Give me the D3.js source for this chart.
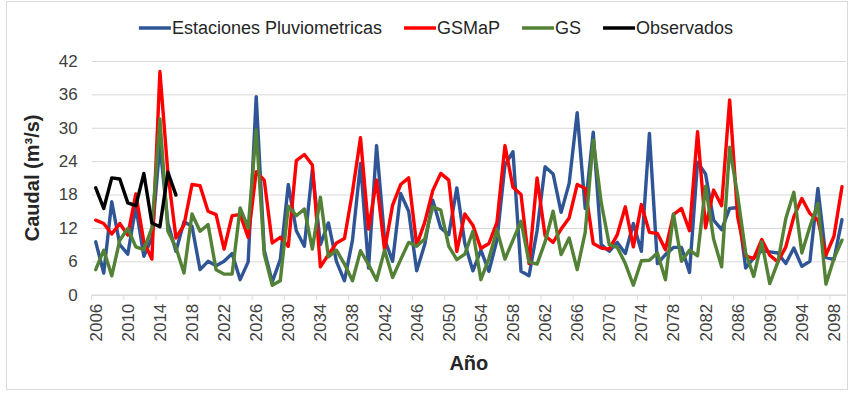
<!DOCTYPE html>
<html>
<head>
<meta charset="utf-8">
<script src="https://cdn.jsdelivr.net/npm/d3@7"></script>
<style>
  html, body { margin: 0; padding: 0; background: #fff; }
  svg { display: block; font-family: "Liberation Sans", Arial, sans-serif; }
</style>
</head>
<body>
<svg id="chart" width="851" height="394"></svg>
<script>
// categories: one per year
const years = d3.range(2006, 2100);
const xTickLabels = [2006, 2010, 2014, 2018, 2022, 2026, 2030, 2034, 2038, 2042, 2046, 2050,
  2054, 2058, 2062, 2066, 2070, 2074, 2078, 2082, 2086, 2090, 2094, 2098];
const yTicks = [0, 6, 12, 18, 24, 30, 36, 42];

// values (m3/s), 2006 -> 2099
const estaciones = [
  9.5, 3.9, 16.7, 9.0, 7.3, 15.8, 6.9, 10.2, 27.0, 12.8,
  7.8, 13.1, 12.3, 4.5, 6.0, 5.2, 6.0, 7.4, 2.7, 5.9,
  35.6, 8.0, 2.3, 6.3, 19.8, 11.5, 8.7, 22.5, 9.0, 12.9,
  6.0, 2.5, 9.8, 23.6, 4.8, 26.8, 10.0, 6.0, 18.2, 15.0,
  4.3, 9.0, 17.0, 12.0, 10.8, 19.2, 9.2, 4.3, 8.0, 4.2,
  9.8, 23.3, 25.7, 4.2, 3.4, 11.5, 23.0, 21.7, 14.8, 20.0,
  32.7, 15.5, 29.2, 9.0, 7.8, 9.4, 7.4, 12.8, 7.8, 29.0,
  5.6, 7.2, 8.5, 8.5, 4.0, 23.8, 21.7, 13.4, 11.7, 15.5,
  15.7, 4.8, 6.6, 7.9, 7.7, 7.5, 5.6, 8.4, 5.1, 6.0,
  19.1, 6.7, 6.3, 13.5
];
const gsmap = [
  13.4, 12.8, 10.9, 12.8, 10.7, 18.1, 9.5, 6.4, 40.1, 21.8,
  10.2, 12.5, 19.8, 19.6, 15.0, 14.4, 8.2, 14.2, 14.4, 10.3,
  22.1, 20.6, 9.3, 10.3, 8.7, 24.1, 25.2, 23.3, 5.0, 7.2,
  9.3, 10.1, 18.5, 28.2, 11.8, 20.6, 8.0, 16.1, 19.8, 21.0,
  8.9, 13.0, 18.7, 21.8, 20.6, 7.8, 14.5, 12.5, 8.3, 9.2,
  13.0, 26.8, 19.3, 18.0, 5.6, 21.0, 10.6, 9.4, 11.8, 13.8,
  19.8, 19.1, 9.2, 8.4, 8.2, 10.8, 15.8, 8.6, 16.2, 11.2,
  11.0, 8.1, 14.4, 15.5, 11.5, 29.3, 12.0, 18.8, 16.0, 35.0,
  14.0, 7.0, 6.5, 9.9, 7.1, 5.9, 8.6, 14.0, 17.3, 14.6,
  13.4, 7.1, 10.5, 19.4
];
const gs = [
  4.5, 8.0, 3.4, 9.8, 11.9, 8.6, 8.1, 12.0, 31.6, 11.4,
  8.5, 3.9, 14.5, 11.4, 12.6, 4.5, 3.7, 3.7, 15.6, 12.0,
  29.6, 7.3, 1.7, 2.5, 15.9, 14.2, 15.4, 8.2, 17.5, 6.8,
  8.0, 5.5, 2.5, 7.9, 5.4, 2.6, 8.0, 3.1, 6.3, 9.4,
  8.7, 10.0, 15.8, 15.2, 8.7, 6.3, 7.3, 11.4, 2.7, 6.5,
  11.7, 6.4, 9.8, 13.2, 5.9, 5.5, 9.5, 15.0, 7.2, 10.2,
  4.5, 11.2, 27.8, 16.5, 9.0, 8.5, 5.6, 1.7, 6.1, 6.2,
  7.5, 2.7, 14.5, 6.0, 8.0, 7.0, 19.5, 10.0, 5.0, 26.5,
  17.8, 7.5, 3.3, 9.5, 2.0, 5.8, 13.7, 18.4, 7.5, 12.2,
  16.4, 1.9, 6.5, 9.8
];
// observed only 2006 -> 2016
const observados = [19.2, 15.5, 21.0, 20.8, 16.5, 16.0, 21.8, 12.9, 12.2, 22.0, 17.9];

const series = [
  { name: "Estaciones Pluviometricas", color: "#2f5597", values: estaciones },
  { name: "GSMaP", color: "#ff0000", values: gsmap },
  { name: "GS", color: "#538135", values: gs },
  { name: "Observados", color: "#000000", values: observados }
];

const W = 851, H = 394;
const plot = { left: 91.7, right: 846, top: 61, bottom: 294.7 };

const svg = d3.select("#chart");

svg.append("rect")
  .attr("width", W).attr("height", H).attr("fill", "#fff");

// chart area border
svg.append("rect")
  .attr("x", 6.5).attr("y", 1.5)
  .attr("width", 841).attr("height", 388)
  .attr("fill", "none")
  .attr("stroke", "#d9d9d9");

const x = d3.scaleBand()
  .domain(years)
  .range([plot.left, plot.right])
  .padding(0);
const bw = x.bandwidth();

const y = d3.scaleLinear()
  .domain([0, 42])
  .range([plot.bottom, plot.top]);

// y axis + gridlines
const yAxis = svg.append("g")
  .attr("transform", `translate(${plot.left},0)`)
  .call(d3.axisLeft(y).tickValues(yTicks).tickSize(-(plot.right - plot.left)).tickPadding(14));
yAxis.select(".domain").remove();
yAxis.selectAll(".tick line").attr("stroke", "#d9d9d9");
yAxis.selectAll(".tick text")
  .attr("fill", "#404040")
  .style("font-size", "17px")
  .style("font-family", "'Liberation Sans', Arial, sans-serif");

// x axis, ticks on category boundaries
const xAxis = svg.append("g")
  .attr("transform", `translate(0,${plot.bottom})`)
  .call(d3.axisBottom(x).tickValues(xTickLabels).tickSize(5).tickSizeOuter(0));
xAxis.select(".domain").attr("stroke", "#d9d9d9");
xAxis.selectAll(".tick line")
  .attr("stroke", "#d9d9d9")
  .attr("x1", -bw / 2).attr("x2", -bw / 2);
xAxis.selectAll(".tick text")
  .attr("transform", "rotate(-90)")
  .attr("text-anchor", "end")
  .attr("x", -9)
  .attr("y", 0)
  .attr("dy", "0.35em")
  .attr("fill", "#404040")
  .style("font-size", "17px")
  .style("font-family", "'Liberation Sans', Arial, sans-serif");

// lines
const line = d3.line()
  .defined(d => d != null)
  .x((d, i) => x(years[i]) + bw / 2)
  .y(d => y(d));

svg.append("g")
  .selectAll("path")
  .data(series)
  .join("path")
  .attr("fill", "none")
  .attr("stroke", d => d.color)
  .attr("stroke-width", 3.4)
  .attr("stroke-linejoin", "round")
  .attr("stroke-linecap", "round")
  .attr("d", d => line(d.values));

// axis titles
svg.append("text")
  .attr("transform", `translate(32,${(plot.top + plot.bottom) / 2}) rotate(-90)`)
  .attr("text-anchor", "middle")
  .attr("dy", "0.35em")
  .attr("fill", "#262626")
  .style("font-size", "20px")
  .style("font-weight", "bold")
  .text("Caudal (m³/s)");

svg.append("text")
  .attr("x", (plot.left + plot.right) / 2)
  .attr("y", 370)
  .attr("text-anchor", "middle")
  .attr("fill", "#262626")
  .style("font-size", "20px")
  .style("font-weight", "bold")
  .text("Año");

// legend, centred above the plot
const legend = svg.append("g");
const items = legend.selectAll("g")
  .data(series)
  .join("g");
items.append("line")
  .attr("x1", 0).attr("x2", 32)
  .attr("y1", 0).attr("y2", 0)
  .attr("stroke", d => d.color)
  .attr("stroke-width", 3.4);
items.append("text")
  .attr("x", 33)
  .attr("dy", "0.35em")
  .attr("fill", "#262626")
  .style("font-size", "18px")
  .text(d => d.name);

let offset = 0;
items.each(function() {
  const g = d3.select(this);
  g.attr("transform", `translate(${offset},0)`);
  offset += 33 + g.select("text").node().getComputedTextLength() + 22;
});
offset -= 22;
legend.attr("transform", `translate(${436 - offset / 2},28)`);
</script>
</body>
</html>
